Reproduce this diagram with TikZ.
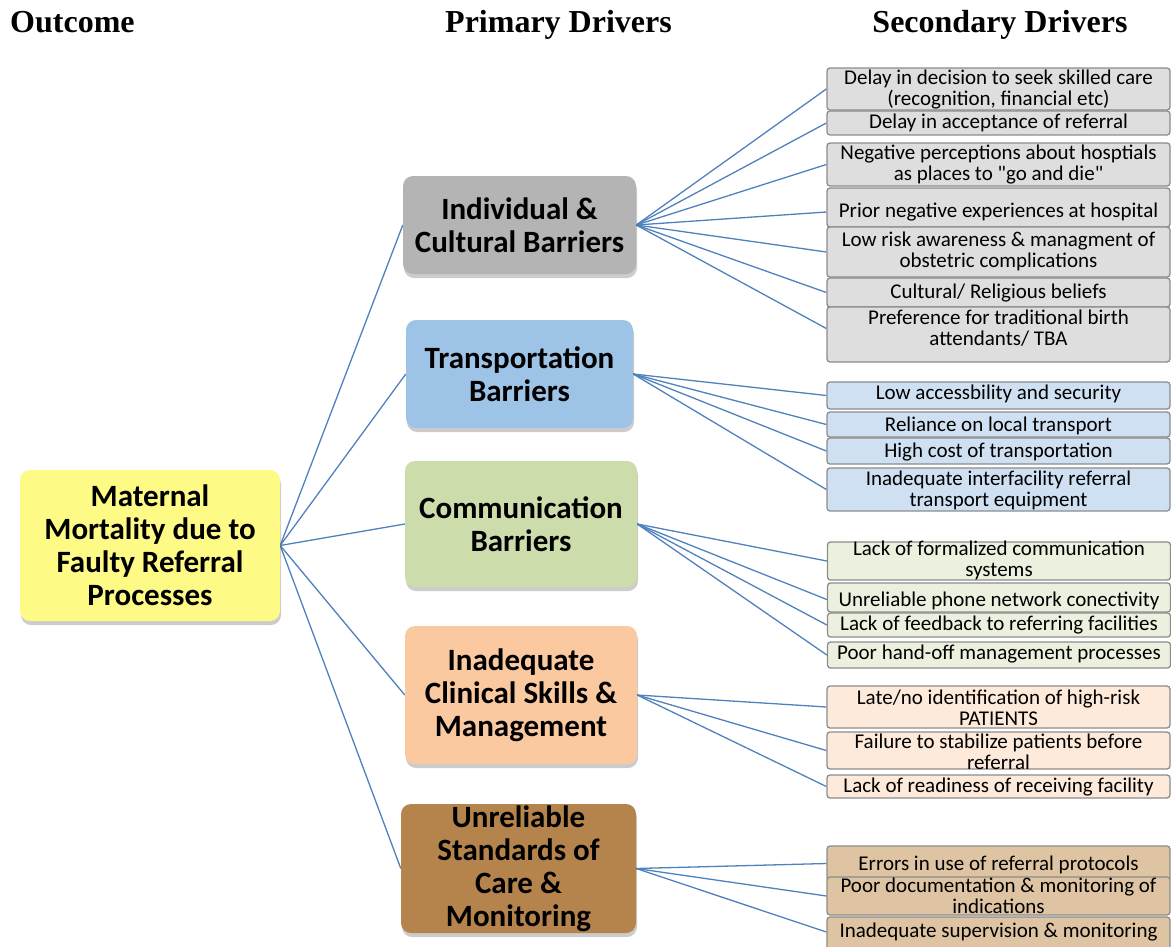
\documentclass[tikz,border=0pt]{standalone}
\usepackage{fontspec}
\setmainfont{Carlito}[Ligatures=TeXOff]
\newfontfamily\hdrfont{Liberation Serif}
\usetikzlibrary{shadows}
\pgfdeclarelayer{bg}
\pgfsetlayers{bg,main}
\definecolor{linkc}{RGB}{79,129,189}
\definecolor{boxline}{RGB}{140,140,140}
\definecolor{outc}{RGB}{253,250,134}
\definecolor{pgray}{RGB}{180,180,180}
\definecolor{pblue}{RGB}{157,195,230}
\definecolor{pgreen}{RGB}{204,220,170}
\definecolor{ppeach}{RGB}{250,201,160}
\definecolor{pbrown}{RGB}{181,131,76}
\definecolor{sgray}{RGB}{222,222,222}
\definecolor{sblue}{RGB}{208,224,243}
\definecolor{sgreen}{RGB}{235,241,222}
\definecolor{speach}{RGB}{253,234,218}
\definecolor{sbrown}{RGB}{222,196,162}
\begin{document}
\begin{tikzpicture}[x=1pt,y=-1pt,
  hdr/.style={font=\hdrfont\bfseries\fontsize{32}{36}\selectfont, inner sep=0pt},
  pbox/.style={rounded corners=10pt, inner sep=0pt, align=center,
    font=\bfseries\fontsize{31}{33}\selectfont,
    drop shadow={shadow xshift=1pt, shadow yshift=-4pt, opacity=0.2, fill=black}},
  sbox/.style={draw=boxline, line width=1.3pt, rounded corners=3pt, inner sep=0pt, minimum width=343pt},
  stxt/.style={font=\fontsize{21}{21}\selectfont, align=center, inner sep=0pt},
  link/.style={draw=linkc, line width=1.3pt}
]
\useasboundingbox (0,0) rectangle (1171,946);

% headers
\node[hdr, anchor=base west] (h1) at (10,32) {Outcome};
\node[hdr, anchor=base] (h2) at (558.5,32) {Primary Drivers};
\node[hdr, anchor=base] (h3) at (1000,32) {Secondary Drivers};

% outcome
\node[pbox, fill=outc, minimum width=260pt, minimum height=151pt] (o) at (150,545.5)
  {Maternal\\Mortality due to\\Faulty Referral\\Processes};

% primary drivers
\node[pbox, fill=pgray, minimum width=233pt, minimum height=98pt] (p1) at (519.5,225)
  {Individual \&\\Cultural Barriers};
\node[pbox, fill=pblue, minimum width=227pt, minimum height=108pt] (p2) at (519.5,374)
  {Transportation\\Barriers};
\node[pbox, fill=pgreen, minimum width=232pt, minimum height=126pt] (p3) at (521,524)
  {Communication\\Barriers};
\node[pbox, fill=ppeach, minimum width=232pt, minimum height=138pt] (p4) at (521,695)
  {Inadequate\\Clinical Skills \&\\Management};
\node[pbox, fill=pbrown, minimum width=235pt, minimum height=129pt] (p5) at (518.5,868.5)
  {\fontsize{31}{33.6}\selectfont Unreliable\\Standards of\\Care \&\\Monitoring};

% secondary drivers: individual & cultural
\node[sbox, fill=sgray, minimum height=42pt] (s1) at (998.5,89) {};
\node[stxt] (t1) at (998.5,89.5) {Delay in decision to seek skilled care\\(recognition, financial etc)};
\node[sbox, fill=sgray, minimum height=24pt] (s2) at (998.5,123) {};
\node[stxt] (t2) at (998.5,123) {Delay in acceptance of referral};
\node[sbox, fill=sgray, minimum height=43pt] (s3) at (998.5,164.5) {};
\node[stxt] (t3) at (998.5,164.5) {Negative perceptions about hosptials\\as places to "go and die"};
\node[sbox, fill=sgray, minimum height=39pt] (s4) at (998.5,207.5) {};
\node[stxt] (t4) at (998.5,212) {Prior negative experiences at hospital};
\node[sbox, fill=sgray, minimum height=50pt] (s5) at (998.5,252) {};
\node[stxt] (t5) at (998.5,251.5) {Low risk awareness \& managment of\\obstetric complications};
\node[sbox, fill=sgray, minimum height=29pt] (s6) at (998.5,292.5) {};
\node[stxt] (t6) at (998.5,293) {Cultural/ Religious beliefs};
\node[sbox, fill=sgray, minimum height=55pt] (s7) at (998.5,334.5) {};
\node[stxt] (t7) at (998.5,328.5) {Preference for traditional birth\\attendants/ TBA};

% transportation
\node[sbox, fill=sblue, minimum height=27pt] (s8) at (998.5,395.5) {};
\node[stxt] (t8) at (998.5,393.5) {Low accessbility and security};
\node[sbox, fill=sblue, minimum height=25pt] (s9) at (998.5,424.5) {};
\node[stxt] (t9) at (998.5,426) {Reliance on local transport};
\node[sbox, fill=sblue, minimum height=26pt] (s10) at (998.5,451) {};
\node[stxt] (t10) at (998.5,452) {High cost of transportation};
\node[sbox, fill=sblue, minimum height=43pt] (s11) at (998.5,489.5) {};
\node[stxt] (t11) at (998.5,490) {Inadequate interfacility referral\\transport equipment};

% communication
\node[sbox, fill=sgreen, minimum height=38pt] (s12) at (999,561) {};
\node[stxt] (t12) at (999,560.5) {Lack of formalized communication\\systems};
\node[sbox, fill=sgreen, minimum height=29pt] (s13) at (999,597.5) {};
\node[stxt] (t13) at (999,601) {Unreliable phone network conectivity};
\node[sbox, fill=sgreen, minimum height=24pt] (s14) at (999,625) {};
\node[stxt] (t14) at (999,625) {Lack of feedback to referring facilities};
\node[sbox, fill=sgreen, minimum height=26pt] (s15) at (999,655) {};
\node[stxt] (t15) at (999,654.5) {Poor hand-off management processes};

% clinical skills
\node[sbox, fill=speach, minimum height=42pt] (s16) at (998.5,707) {};
\node[stxt] (t16) at (998.5,707.5) {Late/no identification of high-risk\\PATIENTS};
\node[sbox, fill=speach, minimum height=37pt] (s17) at (998.5,750.5) {};
\node[stxt] (t17) at (998.5,751.5) {Failure to stabilize patients before\\referral};
\node[sbox, fill=speach, minimum height=23pt] (s18) at (998.5,786.5) {};
\node[stxt] (t18) at (998.5,787) {Lack of readiness of receiving facility};

% standards of care
\node[sbox, fill=sbrown, minimum height=35pt] (s19) at (998.5,863.5) {};
\node[stxt] (t19) at (998.5,864.5) {Errors in use of referral protocols};
\node[sbox, fill=sbrown, minimum height=38pt] (s20) at (998.5,896) {};
\node[stxt] (t20) at (998.5,895.5) {Poor documentation \& monitoring of\\indications};
\node[sbox, fill=sbrown, minimum height=38pt] (s21) at (998.5,936) {};
\node[stxt] (t21) at (998.5,932) {Inadequate supervision \& monitoring};

% connectors
\begin{pgfonlayer}{bg}
\foreach \p in {p1,p2,p3,p4,p5} \draw[link] (o.east) -- (\p.west);
\foreach \s in {s1,s2,s3,s5,s6} \draw[link] (p1.east) -- (\s.west);
\draw[link] (p1.east) -- ([yshift=-4.5pt]s4.west);
\draw[link] (p1.east) -- ([yshift=6pt]s7.west);
\foreach \s in {s8,s9,s10,s11} \draw[link] (p2.east) -- (\s.west);
\foreach \s in {s12,s14,s15} \draw[link] (p3.east) -- (\s.west);
\draw[link] (p3.east) -- ([yshift=-2pt]s13.west);
\foreach \s in {s16,s17,s18} \draw[link] (p4.east) -- (\s.west);
\foreach \s in {s19,s20} \draw[link] (p5.east) -- (\s.west);
\draw[link] (p5.east) -- ([yshift=4pt]s21.west);
\end{pgfonlayer}
\end{tikzpicture}
\end{document}
